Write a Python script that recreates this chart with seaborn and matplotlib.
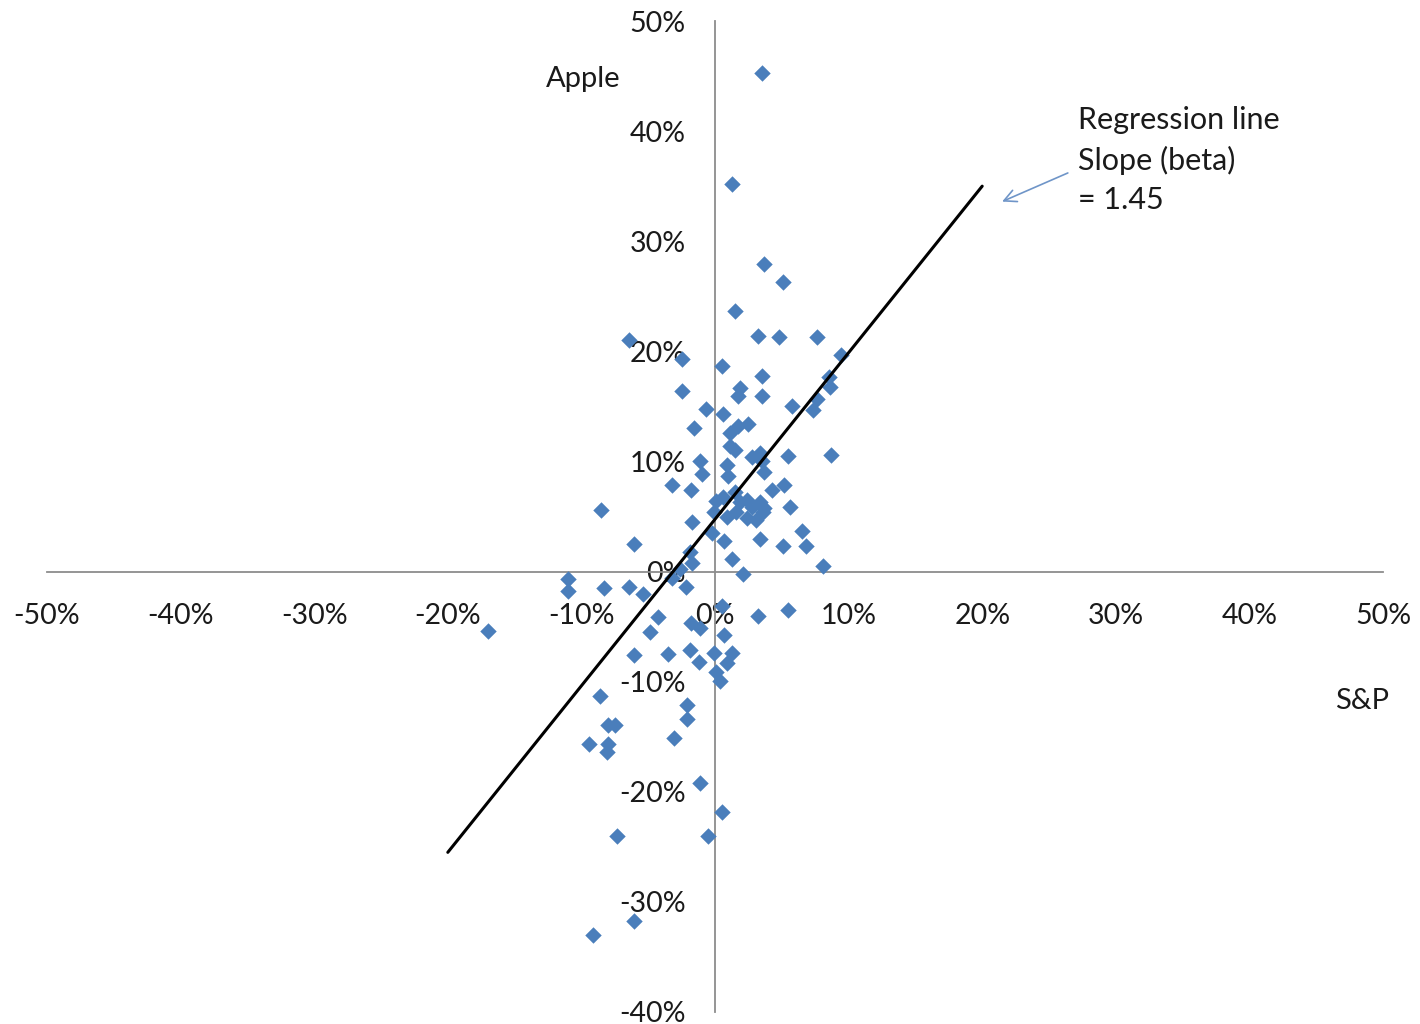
import matplotlib
matplotlib.use("Agg")
import matplotlib.pyplot as plt
from matplotlib.ticker import MultipleLocator, FuncFormatter
import seaborn as sns
import pandas as pd

# ---- Monthly returns (%) ----
sp_returns = [
    3.5, 1.3, 3.7, 5.1, 1.5, -6.4, 3.2, 4.8, 7.6, -2.5,
    9.4, 0.5, 3.5, 8.5, 1.9, 8.6, -2.5, 1.7, 3.5, 7.6,
    5.8, 7.3, -0.7, 0.6, -1.6, 2.5, 1.7, 1.1, 1.5, 3.4,
    2.8, 3.5, 5.5, 8.7, -1.1, 0.9, -1.0, 1.0, 3.7, -3.2,
    -1.8, 5.2, 4.3, -8.5, 5.6, 0.1, 0.6, 1.5, 1.9, 2.4,
    2.8, 3.4, 3.7, -0.1, 0.9, 1.6, 2.4, 3.1, 3.6, -1.7,
    -0.2, 0.7, 3.4, 5.1, 6.5, 6.8, -6.1, -1.9, -1.7, 1.3,
    8.1, 2.1, -2.6, -11.0, -11.0, -8.3, -6.4, -5.4, -2.2, -3.2,
    -17.0, 5.5, 3.2, 0.5, -4.3, -1.8, -1.1, -4.9, 0.7, -6.1,
    -3.5, -1.9, -1.2, -0.1, 1.3, 0.9, 0.1, 0.4, -8.6, -2.1,
    -2.1, -8.0, -7.5, -9.4, -8.0, -8.1, -3.1, -1.1, 0.5, -7.3,
    -0.5, -6.1, -9.1, 1.1,
]
apple_returns = [
    45.3, 35.2, 27.9, 26.3, 23.7, 21.0, 21.4, 21.3, 21.3, 19.3,
    19.7, 18.7, 17.8, 17.7, 16.7, 16.8, 16.4, 15.9, 15.9, 15.7,
    15.0, 14.7, 14.8, 14.3, 13.0, 13.4, 13.2, 12.6, 11.0, 10.8,
    10.4, 10.0, 10.5, 10.6, 10.0, 9.7, 8.9, 8.7, 9.0, 7.9,
    7.4, 7.9, 7.4, 5.6, 5.9, 6.4, 6.8, 7.2, 6.3, 6.5,
    5.9, 6.3, 5.8, 5.4, 5.0, 5.4, 4.9, 4.7, 5.4, 4.5,
    3.5, 2.8, 3.0, 2.3, 3.7, 2.3, 2.5, 1.8, 0.8, 1.1,
    0.5, -0.2, 0.2, -0.7, -1.8, -1.5, -1.4, -2.0, -1.4, -0.6,
    -5.4, -3.5, -4.0, -3.1, -4.1, -4.7, -5.1, -5.5, -5.8, -7.6,
    -7.5, -7.1, -8.2, -7.4, -7.4, -8.3, -9.1, -9.9, -11.3, -12.1,
    -13.4, -13.9, -13.9, -15.7, -15.7, -16.4, -15.1, -19.2, -21.8, -24.0,
    -24.0, -31.7, -33.0, 11.4,
]

# regression line end points (%)
line_x = [-20.0, 20.0]
line_y = [-25.5, 35.0]

df = pd.DataFrame({"S&P": sp_returns, "Apple": apple_returns})

sns.set_style("white")
plt.rcParams["font.family"] = ["Lato", "DejaVu Sans"]
plt.rcParams["axes.unicode_minus"] = False

text_color = "#1a1a1a"
axis_color = "#8c8c8c"
point_color = "#4a7ebb"

fig = plt.figure(figsize=(14.2, 10.24), dpi=100)
ax = fig.add_axes([47 / 1420, 12 / 1024, 1336 / 1420, 991 / 1024])

sns.scatterplot(data=df, x="S&P", y="Apple", marker="D", s=70,
                color=point_color, linewidth=0, ax=ax, zorder=3)
sns.lineplot(x=line_x, y=line_y, color="black", linewidth=2.2, ax=ax, zorder=4)

ax.set_xlim(-50, 50)
ax.set_ylim(-40, 50)
ax.set_xlabel("")
ax.set_ylabel("")

# axes crossing at the origin
ax.spines["left"].set_position(("data", 0))
ax.spines["bottom"].set_position(("data", 0))
ax.spines["top"].set_visible(False)
ax.spines["right"].set_visible(False)
for side in ["left", "bottom"]:
    ax.spines[side].set_color(axis_color)
    ax.spines[side].set_linewidth(1.3)
    ax.spines[side].set_zorder(2)

ax.xaxis.set_major_locator(MultipleLocator(10))
ax.yaxis.set_major_locator(MultipleLocator(10))
pct = FuncFormatter(lambda v, pos: "%d%%" % round(v))
ax.xaxis.set_major_formatter(pct)
ax.yaxis.set_major_formatter(pct)
ax.tick_params(axis="both", direction="out", length=7, width=1.3,
               color=axis_color, labelsize=20.5, labelcolor=text_color)
ax.tick_params(axis="x", pad=16)
ax.tick_params(axis="y", pad=14)
for lab in ax.get_xticklabels() + ax.get_yticklabels():
    lab.set_zorder(5)

ax.text(-9.9, 44.7, "Apple", fontsize=21, color=text_color, ha="center", va="center")
ax.text(48.4, -11.8, "S&P", fontsize=21, color=text_color, ha="center", va="center")
ax.text(27.2, 42.3, "Regression line\nSlope (beta)\n= 1.45", fontsize=22,
        color=text_color, ha="left", va="top", linespacing=1.5)
ax.annotate("", xy=(21.3, 33.5), xytext=(26.6, 36.3),
            arrowprops=dict(arrowstyle="->", color="#6f95c8", lw=1.2,
                            mutation_scale=22))

fig.savefig("out.png", dpi=100)
